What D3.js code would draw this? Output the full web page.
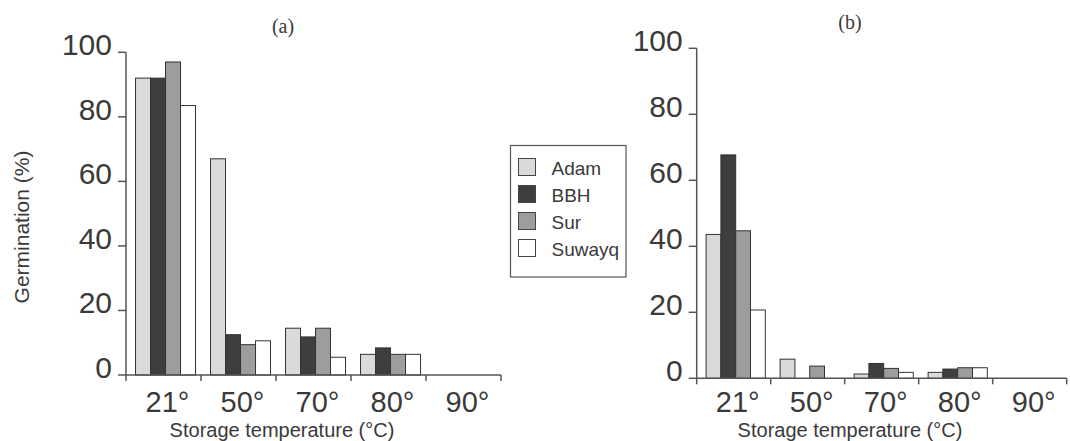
<!DOCTYPE html>
<html>
<head>
<meta charset="utf-8">
<script src="https://cdn.jsdelivr.net/npm/d3@7"></script>
<style>
  body { margin: 0; background: #fff; }
  text { font-family: "Liberation Sans", Arial, sans-serif; fill: #3a3a3a; }
</style>
</head>
<body>
<div id="graphics"></div>
<script>
var width = 1070, height = 441;

// categories, series and values
var temps = ['21°', '50°', '70°', '80°', '90°'];
var seeds = ['Adam', 'BBH', 'Sur', 'Suwayq'];
var yTicks = [0, 20, 40, 60, 80, 100];

// panel (a)
var adamA   = [92, 67, 14.5, 6.4, 0];
var bbhA    = [92, 12.5, 11.8, 8.4, 0];
var surA    = [97, 9.4, 14.5, 6.4, 0];
var suwayqA = [83.5, 10.6, 5.5, 6.4, 0];

// panel (b)
var adamB   = [43.6, 5.8, 1.3, 1.8, 0];
var bbhB    = [67.7, 0, 4.5, 2.8, 0];
var surB    = [44.7, 3.7, 3, 3.2, 0];
var suwayqB = [20.7, 0, 1.8, 3.2, 0];

var fills = {Adam: '#dadada', BBH: '#3e3e3e', Sur: '#9d9d9d', Suwayq: '#ffffff'};

var svg = d3.select('#graphics')
            .append('svg')
            .attr('width', width)
            .attr('height', height);

function drawPanel(series, opt) {
  var x = d3.scaleBand().domain(temps).range([opt.x0, opt.x1]).padding(0);
  var xs = d3.scaleBand().domain(seeds)
             .range([x.bandwidth() * 0.127, x.bandwidth() * 0.927]).padding(0);
  var y = d3.scaleLinear().domain([0, 100]).range([opt.y0, opt.y1]);

  var g = svg.append('g');

  var rows = [];
  temps.forEach(function(t, i) {
    seeds.forEach(function(s) {
      rows.push({temp: t, seed: s, value: series[s][i]});
    });
  });

  g.selectAll('rect.bar')
    .data(rows.filter(d => d.value > 0)).enter()
    .append('rect')
      .attr('class', 'bar')
      .attr('x', d => x(d.temp) + xs(d.seed))
      .attr('y', d => y(d.value))
      .attr('width', xs.bandwidth())
      .attr('height', d => y(0) - y(d.value))
      .attr('fill', d => fills[d.seed])
      .attr('stroke', '#333')
      .attr('stroke-width', 1);

  // x axis
  g.append('line')
    .attr('x1', opt.x0).attr('x2', opt.x1)
    .attr('y1', y(0)).attr('y2', y(0))
    .attr('stroke', '#555').attr('stroke-width', 1.5);
  var bounds = temps.map(t => x(t)).concat([opt.x1]);
  g.selectAll('line.xt')
    .data(bounds).enter().append('line')
      .attr('class', 'xt')
      .attr('x1', d => d).attr('x2', d => d)
      .attr('y1', y(0)).attr('y2', y(0) + 6)
      .attr('stroke', '#555').attr('stroke-width', 1.5);
  g.selectAll('text.xl')
    .data(temps).enter().append('text')
      .attr('class', 'xl')
      .attr('x', d => x(d) + x.bandwidth() / 2 + 4)
      .attr('y', 412)
      .attr('text-anchor', 'middle')
      .style('font-size', '29px')
      .text(d => d);

  // y axis
  g.append('line')
    .attr('x1', opt.x0).attr('x2', opt.x0)
    .attr('y1', y(0)).attr('y2', y(100))
    .attr('stroke', '#555').attr('stroke-width', 1.5);
  g.selectAll('line.yt')
    .data(yTicks).enter().append('line')
      .attr('class', 'yt')
      .attr('x1', opt.x0 - 8).attr('x2', opt.x0)
      .attr('y1', d => y(d)).attr('y2', d => y(d))
      .attr('stroke', '#555').attr('stroke-width', 1.5);
  g.selectAll('text.yl')
    .data(yTicks).enter().append('text')
      .attr('class', 'yl')
      .attr('x', opt.x0 - 14)
      .attr('y', d => y(d) + 3)
      .attr('text-anchor', 'end')
      .style('font-size', '30px')
      .text(d => d);

  g.append('text')
    .attr('x', opt.titleX).attr('y', opt.titleY)
    .attr('text-anchor', 'middle')
    .style('font-family', '"Liberation Serif", "Times New Roman", serif')
    .style('font-size', '20px')
    .text(opt.title);

  g.append('text')
    .attr('x', opt.xLabelX).attr('y', 437)
    .attr('text-anchor', 'middle')
    .style('font-size', '20px')
    .text('Storage temperature (°C)');
}

drawPanel({Adam: adamA, BBH: bbhA, Sur: surA, Suwayq: suwayqA},
  {x0: 126, x1: 501, y0: 375, y1: 52.3, title: '(a)', titleX: 283, titleY: 33, xLabelX: 282});

drawPanel({Adam: adamB, BBH: bbhB, Sur: surB, Suwayq: suwayqB},
  {x0: 696.7, x1: 1066.7, y0: 378.3, y1: 48.3, title: '(b)', titleX: 850, titleY: 29, xLabelX: 850});

// y label, only on panel (a)
svg.append('text')
  .attr('transform', 'translate(29,227) rotate(-90)')
  .attr('text-anchor', 'middle')
  .style('font-size', '21px')
  .text('Germination (%)');

// legend
var legend = svg.append('g');
legend.append('rect')
  .attr('x', 510.5).attr('y', 145.5)
  .attr('width', 115.5).attr('height', 131.5)
  .attr('fill', 'none').attr('stroke', '#555').attr('stroke-width', 1.2);
var item = legend.selectAll('g')
  .data(seeds).enter().append('g')
  .attr('transform', function(d, i) {
    return 'translate(' + [518.5, 158.5 + i * 27] + ')';
  });
item.append('rect')
  .attr('width', 17).attr('height', 17)
  .attr('fill', d => fills[d])
  .attr('stroke', '#444').attr('stroke-width', 1);
item.append('text')
  .attr('x', 33).attr('y', 16)
  .style('font-size', '19px')
  .text(d => d);
</script>
</body>
</html>
